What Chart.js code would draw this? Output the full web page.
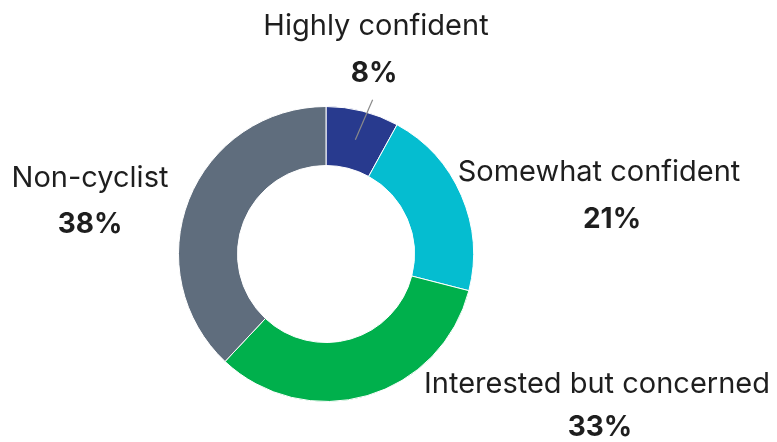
<!DOCTYPE html>
<html>
<head>
<meta charset="utf-8">
<script src="https://cdn.jsdelivr.net/npm/chart.js@4.4.1/dist/chart.umd.min.js"></script>
<style>
  html, body { margin: 0; padding: 0; background: #fff; }
  #wrap { width: 777px; height: 442px; position: relative; }
</style>
</head>
<body>
<div id="wrap"><canvas id="donut"></canvas></div>
<script>
const categories = ["Highly confident", "Somewhat confident", "Interested but concerned", "Non-cyclist"];
const shares = [8, 21, 33, 38];
const colors = ["#283a8e", "#05bdd0", "#00b04c", "#5f6d7d"];

// label placement, offsets from the ring centre (px): name x, name baseline, pct x, pct baseline
const labelOffsets = [
  [50, -219, 48, -172],
  [273, -73, 286, -26],
  [271, 139, 274, 182],
  [-236, -67, -236, -21]
];

const outsideLabels = {
  id: "outsideLabels",
  afterDatasetsDraw(chart) {
    const ctx = chart.ctx;
    const arcs = chart.getDatasetMeta(0).data;
    const cx = arcs[0].x, cy = arcs[0].y, r = arcs[0].outerRadius;
    ctx.save();
    ctx.textAlign = "center";
    ctx.textBaseline = "alphabetic";
    ctx.fillStyle = "#1e1e1e";
    categories.forEach((name, i) => {
      const o = labelOffsets[i];
      ctx.font = "400 29px Inter";
      ctx.fillText(name, cx + o[0], cy + o[1]);
      ctx.font = "700 28px Inter";
      ctx.fillText(shares[i] + "%", cx + o[2], cy + o[3]);
    });
    // leader line for the small slice
    const a = arcs[0];
    const mid = (a.startAngle + a.endAngle) / 2;
    ctx.strokeStyle = "#8a8a8a";
    ctx.lineWidth = 1.2;
    ctx.beginPath();
    ctx.moveTo(cx + Math.cos(mid) * r * 0.80, cy + Math.sin(mid) * r * 0.80);
    ctx.lineTo(cx + Math.cos(mid) * r * 1.08 + 7, cy + Math.sin(mid) * r * 1.08);
    ctx.stroke();
    ctx.restore();
  }
};

new Chart(document.getElementById("donut"), {
  type: "doughnut",
  data: {
    labels: categories,
    datasets: [{
      data: shares,
      backgroundColor: colors,
      borderColor: "#ffffff",
      borderWidth: 1
    }]
  },
  options: {
    responsive: true,
    maintainAspectRatio: false,
    animation: false,
    cutout: "60%",
    layout: { padding: { left: 178, right: 303, top: 106, bottom: 40 } },
    plugins: {
      legend: { display: false },
      tooltip: { enabled: false }
    }
  },
  plugins: [outsideLabels]
});
</script>
</body>
</html>
